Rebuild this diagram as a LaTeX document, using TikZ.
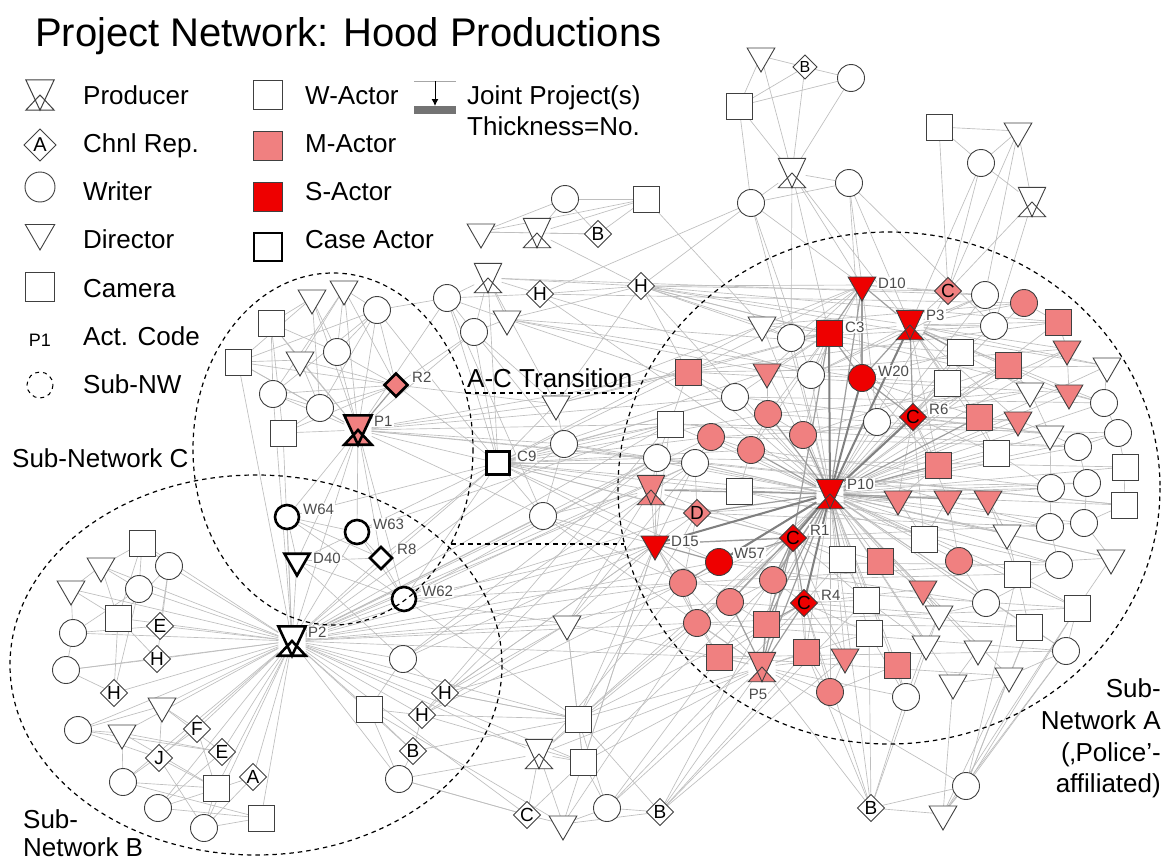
\documentclass[tikz,border=0pt]{standalone}
\usepackage{fontspec}
\setmainfont{Liberation Sans}
\usetikzlibrary{shapes.geometric,arrows.meta}
\definecolor{mpink}{RGB}{240,128,128}
\definecolor{sred}{RGB}{238,0,0}
\definecolor{edgec}{RGB}{190,190,190}
\pgfdeclarelayer{bg}
\pgfsetlayers{bg,main}
\newcommand\hglass[3]{%
  \fill[#2] (#1.north west) -- (#1.north east) -- (#1.south) -- cycle;
  \fill[#2] (#1.south west) -- (#1.south east) -- (#1.center) -- cycle;
  \draw[#3, line join=miter] (#1.north west) -- (#1.north east) -- (#1.south) -- cycle
    (#1.south west) -- (#1.south east) -- (#1.center) -- cycle;}
\begin{document}
\begin{tikzpicture}[x=1pt,y=-1pt,
 base/.style={draw=black!75, line width=0.9pt, inner sep=0pt, outer sep=0pt},
 sq/.style={base, rectangle, minimum size=26pt},
 ci/.style={base, circle, minimum size=27pt},
 tr/.style={base, regular polygon, regular polygon sides=3, shape border rotate=180, minimum size=32pt, yshift=4pt},
 di/.style={base, diamond, minimum size=27pt, font=\fontsize{19}{19}\selectfont},
 pr/.style={rectangle, minimum width=27pt, minimum height=29pt, inner sep=0pt},
 wf/.style={fill=white}, mf/.style={fill=mpink}, sf/.style={fill=sred},
 case/.style={draw=black, line width=2.6pt},
 lbl/.style={font=\fontsize{15}{15}\selectfont, text=black!70, fill=white, inner sep=1pt, anchor=west},
 ed/.style={draw=edgec, line width=0.65pt},
 em/.style={draw=black!38, line width=1.2pt},
 et/.style={draw=black!50, line width=2pt},
 lt/.style={font=\fontsize{26}{26}\selectfont, anchor=base west, inner sep=0pt},
 nw/.style={draw=black, line width=1.2pt, dash pattern=on 4.5pt off 4pt},
]
\useasboundingbox (0,0) rectangle (1163,862);
\begin{pgfonlayer}{bg}
\fill[white] (0,0) rectangle (1163,862);
\end{pgfonlayer}

% ---------------- title and legend ----------------
\node[font=\fontsize{40}{40}\selectfont, anchor=base west, inner sep=0pt] (title) at (35,46) {Project Network: Hood Productions};

\node[pr, minimum width=28pt, minimum height=30pt] (lgP) at (40,95) {};
\node[di, wf, minimum size=32pt, font=\fontsize{20}{20}\selectfont] (lgA) at (40,145) {A};
\node[ci, wf, minimum size=30pt] (lgW) at (40,187) {};
\node[tr, wf, minimum size=34pt] (lgD) at (40,237) {};
\node[sq, wf, minimum size=29pt] (lgC) at (40,287) {};
\node[font=\fontsize{18}{18}\selectfont, inner sep=0pt] (lgP1) at (40,340) {P1};
\draw[line width=1pt, dash pattern=on 4pt off 4pt] (40,385) circle (13);
\node[lt] (tP) at (83,104) {Producer};
\node[lt] (tA) at (83,152) {Chnl Rep.};
\node[lt] (tW) at (83,200) {Writer};
\node[lt] (tD) at (83,248) {Director};
\node[lt] (tC) at (83,297) {Camera};
\node[lt] (tAC) at (83,345) {Act. Code};
\node[lt] (tNW) at (83,393) {Sub-NW};
\node[sq, wf, minimum size=29pt] (lgWA) at (268,95) {};
\node[sq, mf, minimum size=29pt] (lgMA) at (268,146) {};
\node[sq, sf, minimum size=29pt] (lgSA) at (268,197) {};
\node[sq, wf, case, minimum size=28pt] (lgCA) at (268,247) {};
\node[lt] (tWA) at (305,104) {W-Actor};
\node[lt] (tMA) at (305,152) {M-Actor};
\node[lt] (tSA) at (305,200) {S-Actor};
\node[lt] (tCA) at (305,248) {Case Actor};
\draw[black!35, line width=1pt] (414,81) -- (456,81);
\draw[black, line width=1pt, -{Latex[length=7pt,width=7pt]}] (435,81) -- (435,106);
\fill[black!55] (414,106) rectangle (456,114);
\node[lt] (tJP) at (467,104) {Joint Project(s)};
\node[lt] (tTN) at (467,135) {Thickness=No.};

% ---------------- region C ----------------
\node[tr,wf] (c1) at (312,302) {};
\node[tr,wf] (c2) at (344,293) {};
\node[ci,wf] (c3) at (377,310) {};
\node[sq,wf] (c4) at (271,323) {};
\node[ci,wf] (c5) at (337,352) {};
\node[sq,wf] (c6) at (238,362) {};
\node[tr,wf] (c7) at (300,364) {};
\node[ci,wf] (c8) at (273,394) {};
\node[ci,wf] (c9) at (320,408) {};
\node[sq,wf] (c10) at (283,433) {};
\node[di,mf,case,minimum size=23pt] (R2) at (396,385) {};
\node[pr] (P1) at (358,430) {};
\node[ci,wf,case,minimum size=24pt] (W64) at (287,517) {};
\node[ci,wf,case,minimum size=24pt] (W63) at (357,532) {};
\node[di,wf,case,minimum size=22pt] (R8) at (381,558) {};
\node[tr,wf,case,minimum size=29pt] (D40) at (297,565) {};
\node[ci,wf,case,minimum size=24pt] (W62) at (404,599) {};
\node[sq,wf,case,minimum size=23pt] (C9) at (498,463) {};

% ---------------- region B ----------------
\node[sq,wf] (b1) at (142,543) {};
\node[tr,wf] (b2) at (101,570) {};
\node[ci,wf] (b3) at (169,566) {};
\node[tr,wf] (b4) at (71,593) {};
\node[ci,wf] (b5) at (139,589) {};
\node[sq,wf] (b6) at (118,618) {};
\node[di,wf] (b7) at (160,626) {E};
\node[ci,wf] (b8) at (73,633) {};
\node[di,wf] (b9) at (157,659) {H};
\node[ci,wf] (b10) at (66,670) {};
\node[di,wf] (b11) at (114,693) {H};
\node[tr,wf] (b12) at (162,710) {};
\node[ci,wf] (b13) at (78,730) {};
\node[di,wf] (b14) at (197,729) {F};
\node[tr,wf] (b15) at (122,737) {};
\node[di,wf] (b16) at (222,752) {E};
\node[di,wf] (b17) at (159,758) {J};
\node[di,wf] (b18) at (253,777) {A};
\node[ci,wf] (b19) at (123,782) {};
\node[sq,wf] (b20) at (216,788) {};
\node[ci,wf] (b21) at (158,808) {};
\node[ci,wf] (b22) at (204,828) {};
\node[sq,wf] (b23) at (261,818) {};
\node[ci,wf] (b24) at (403,659) {};
\node[di,wf] (b25) at (445,693) {H};
\node[sq,wf] (b26) at (369,709) {};
\node[di,wf] (b27) at (422,715) {H};
\node[di,wf] (b28) at (413,751) {B};
\node[ci,wf] (b29) at (399,779) {};
\node[pr] (P2) at (292,641) {};

% ---------------- top clusters ----------------
\node[ci,wf] (t1) at (565,199) {};
\node[sq,wf] (t2) at (646,199) {};
\node[tr,wf] (t3) at (481,236) {};
\node[pr] (t4) at (537,233) {};
\node[di,wf] (t5) at (598,234) {B};
\node[pr] (t6) at (488,278) {};
\node[ci,wf] (t7) at (447,298) {};
\node[di,wf] (t8) at (540,294) {H};
\node[di,wf] (t9) at (641,286) {H};
\node[tr,wf] (t10) at (507,323) {};
\node[ci,wf] (t11) at (474,332) {};
\node[tr,wf] (x1) at (556,408) {};
\node[ci,wf] (x2) at (564,444) {};
\node[ci,wf] (x3) at (543,516) {};
\node[tr,wf] (u1) at (761,60) {};
\node[di,wf,minimum size=24pt,font=\fontsize{16}{16}\selectfont] (u2) at (805,67) {B};
\node[ci,wf] (u3) at (851,78) {};
\node[sq,wf] (u4) at (739,106) {};
\node[pr] (u5) at (792,173) {};
\node[ci,wf] (u6) at (849,183) {};
\node[ci,wf] (u7) at (751,203) {};
\node[sq,wf] (v1) at (939,127) {};
\node[tr,wf] (v2) at (1018,135) {};
\node[ci,wf] (v3) at (981,163) {};
\node[pr] (v4) at (1032,202) {};

% ---------------- region A ----------------
\node[tr,sf] (D10) at (862,289) {};
\node[di,mf] (a1) at (948,291) {C};
\node[ci,wf] (a2) at (985,295) {};
\node[ci,mf] (a3) at (1024,303) {};
\node[pr] (P3) at (910,325) {};
\node[ci,wf] (a4) at (994,326) {};
\node[sq,mf] (a5) at (1058,322) {};
\node[sq,sf] (C3) at (829,333) {};
\node[tr,wf] (a6) at (762,329) {};
\node[ci,wf] (a7) at (791,338) {};
\node[sq,wf] (a8) at (960,352) {};
\node[tr,mf] (a9) at (1067,353) {};
\node[sq,mf] (a10) at (1008,365) {};
\node[tr,wf] (a11) at (1107,370) {};
\node[sq,mf] (a12) at (688,372) {};
\node[tr,mf] (a13) at (767,376) {};
\node[ci,wf] (a14) at (811,375) {};
\node[ci,sf] (W20) at (862,378) {};
\node[sq,wf] (a15) at (947,383) {};
\node[tr,wf] (a16) at (1030,395) {};
\node[tr,mf] (a17) at (1069,397) {};
\node[ci,wf] (a18) at (735,397) {};
\node[ci,wf] (a19) at (1104,403) {};
\node[ci,mf] (a20) at (768,414) {};
\node[di,sf] (R6) at (913,417) {C};
\node[ci,wf] (a21) at (877,422) {};
\node[sq,mf] (a22) at (979,417) {};
\node[tr,mf] (a23) at (1018,424) {};
\node[sq,wf] (a24) at (670,424) {};
\node[ci,mf] (a25) at (803,435) {};
\node[ci,mf] (a26) at (711,437) {};
\node[ci,wf] (a27) at (1118,433) {};
\node[tr,wf] (a28) at (1050,438) {};
\node[ci,wf] (a29) at (1078,447) {};
\node[ci,mf] (a30) at (751,450) {};
\node[sq,wf] (a31) at (996,453) {};
\node[ci,wf] (a32) at (657,458) {};
\node[ci,wf] (a33) at (695,463) {};
\node[sq,mf] (a34) at (938,465) {};
\node[sq,wf] (a35) at (1125,467) {};
\node[ci,wf] (a36) at (1087,483) {};
\node[ci,wf] (a37) at (1051,488) {};
\node[pr] (a38) at (651,490) {};
\node[sq,wf] (a39) at (739,491) {};
\node[pr] (P10) at (830,494) {};
\node[tr,mf] (a40) at (898,503) {};
\node[tr,mf] (a41) at (948,503) {};
\node[tr,mf] (a42) at (988,503) {};
\node[sq,wf] (a43) at (1124,505) {};
\node[di,mf] (a44) at (697,513) {D};
\node[ci,wf] (a45) at (1084,523) {};
\node[ci,wf] (a46) at (1050,527) {};
\node[tr,wf] (a47) at (1007,537) {};
\node[di,sf] (R1) at (793,538) {C};
\node[sq,wf] (a48) at (924,539) {};
\node[tr,sf] (D15) at (655,548) {};
\node[sq,wf] (a49) at (842,559) {};
\node[sq,mf] (a50) at (880,561) {};
\node[ci,mf] (a51) at (959,561) {};
\node[ci,sf] (W57) at (719,562) {};
\node[ci,wf] (a52) at (1059,565) {};
\node[tr,wf] (a53) at (1111,562) {};
\node[sq,wf] (a54) at (1017,574) {};
\node[ci,mf] (a55) at (683,583) {};
\node[ci,mf] (a56) at (773,580) {};
\node[tr,mf] (a57) at (923,593) {};
\node[ci,mf] (a58) at (730,602) {};
\node[di,sf] (R4) at (804,603) {C};
\node[sq,wf] (a59) at (866,600) {};
\node[ci,wf] (a60) at (986,603) {};
\node[sq,wf] (a61) at (1077,608) {};
\node[tr,wf] (a62) at (939,618) {};
\node[ci,mf] (a63) at (697,623) {};
\node[sq,mf] (a64) at (766,624) {};
\node[sq,wf] (a65) at (1029,627) {};
\node[sq,wf] (a66) at (869,633) {};
\node[tr,wf] (a67) at (926,648) {};
\node[ci,wf] (a68) at (1066,651) {};
\node[tr,wf] (a69) at (978,653) {};
\node[sq,mf] (a70) at (806,652) {};
\node[sq,mf] (a71) at (719,657) {};
\node[tr,mf] (a72) at (845,661) {};
\node[sq,mf] (a73) at (897,665) {};
\node[pr] (P5) at (762,667) {};
\node[tr,wf] (a74) at (1009,680) {};
\node[tr,wf] (a75) at (953,687) {};
\node[ci,mf] (a76) at (830,692) {};
\node[ci,wf] (a77) at (906,697) {};

% ---------------- bottom ----------------
\node[tr,wf] (m1) at (567,628) {};
\node[sq,wf] (m2) at (578,719) {};
\node[pr] (m3) at (539,754) {};
\node[sq,wf] (m4) at (583,762) {};
\node[di,wf] (m5) at (527,815) {C};
\node[tr,wf] (m6) at (563,828) {};
\node[ci,wf] (m7) at (607,808) {};
\node[di,wf] (m8) at (660,812) {B};
\node[di,wf] (n1) at (871,808) {B};
\node[tr,wf] (n2) at (943,818) {};
\node[ci,wf] (n3) at (966,786) {};

% ---------------- producers ----------------
\hglass{lgP}{white}{draw=black!75, line width=1pt}
\foreach \n in {t4,t6,u5,v4,m3} {\hglass{\n}{white}{draw=black!75, line width=0.9pt}}
\hglass{a38}{mpink}{draw=black!75, line width=0.9pt}
\hglass{P5}{mpink}{draw=black!75, line width=0.9pt}
\hglass{P10}{sred}{draw=black!75, line width=0.9pt}
\hglass{P3}{sred}{draw=black!75, line width=0.9pt}
\hglass{P1}{mpink}{draw=black, line width=2.6pt}
\hglass{P2}{white}{draw=black, line width=2.6pt}

% ---------------- connectors ----------------
\begin{pgfonlayer}{bg}
\foreach \i in {1,...,29} \draw[ed] (P2) -- (b\i);
\foreach \b in {W64,W63,R8,D40,W62,P1,C9,c10,c8,c6,m1,m2,m4,a38,D15,a32,a33,a24,a55,x3,
  a63,a71,a58,W57,a44,a26,x2,m3,m5}
  \draw[ed] (P2) -- (\b);
\foreach \i in {1,...,10} \draw[ed] (P1) -- (c\i);
\foreach \b in {W64,W63,R8,D40,W62,C9,x1,x2,a24,a32,t7,t11,a12,x3,a18,a33}
  \draw[ed] (P1) -- (\b);
\draw[em] (P1) -- (R2);
\foreach \a/\b in {c1/c4,c1/c5,c1/c6,c2/c5,c2/c3,c2/c7,c3/c5,c3/R2,c4/c7,c4/c10,c4/c8,c5/R2,
  c6/c7,c6/c9,c6/R2,c7/c9,c7/R2,c8/R2,c8/c9,c9/R2,c1/c9,c2/c8,c3/c8,c3/c9,c10/R2,c10/c9,
  c4/c5,c6/c3,c2/R2,R2/C9,R2/t11,R2/x1,c3/t7,
  W64/W63,W64/R8,W64/W62,W64/D40,W63/R8,W63/W62,R8/W62,D40/R8,D40/W62,D40/W63,W62/C9,
  W62/a32,W62/a33,W62/D15,W62/m1,W63/C9,W63/a24,R8/C9,W64/C9,W62/a55,W62/m2,D40/b24,
  C9/x1,C9/x2,C9/x3,C9/a24,C9/a32,C9/a33,C9/a38,C9/a12,C9/a18,C9/a26,C9/P10,C9/a39,C9/a44,
  C9/D15,C9/a20,C9/a30,C9/t6,C9/t11,C9/c3,C9/a13,C9/a6,C9/W57,C9/R1,
  b1/b3,b1/b5,b2/b5,b2/b6,b3/b7,b4/b6,b5/b8,b6/b9,b6/b11,b7/b8,b8/b10,b9/b10,b10/b11,
  b12/b13,b12/b14,b12/b17,b13/b15,b13/b17,b14/b19,b15/b19,b15/b20,b16/b21,b16/b13,b17/b22,
  b18/b21,b18/b22,b19/b20,b20/b22,b21/b23,b22/b23,b15/b16,b17/b20,b19/b23,b3/b6,b1/b6,
  b3/b9,b5/b11,b2/b4,b4/b8,b1/b2,b14/b20,b12/b16,
  b24/b25,b24/b26,b25/b27,b26/b27,b26/b29,b27/b28,b28/b29,b26/b28,b25/a38,b25/D15,b27/a55,
  b28/m2,b24/a32,b25/m2,b27/m4,b24/a33,b29/m3,b25/a63,b27/a24,b24/D15,b29/m5,b26/m6,
  t1/t2,t1/t3,t1/t4,t2/t3,t2/t4,t2/t5,t3/t4,t4/t5,t1/t5,t3/t5,t6/t7,t6/t8,t6/t9,t6/t10,
  t6/t11,t7/t8,t7/t10,t7/t11,t8/t9,t10/t9,t11/t10,t9/a6,t9/C3,t9/D10,t9/P3,t9/a12,t8/a14,
  t10/a13,t6/x1,t7/C9,t11/x2,t9/P10,t9/a1,t9/a5,t9/a7,t8/P10,t10/W20,t11/x1,t7/x3,t10/a18,
  t2/a6,t4/t9,t9/a11,t9/a19,t8/a3,t6/a2,t10/a8,
  u1/u2,u1/u4,u1/u5,u2/u3,u2/u4,u2/u5,u3/u4,u3/u5,u4/u5,u5/u6,u5/u7,u6/u7,u7/t9,u7/D10,
  u7/a14,u5/D10,u5/C3,u5/P3,u6/D10,u6/P3,u5/a7,u7/P10,u6/W20,u7/t8,u6/a4,u4/u7,
  v1/v2,v1/v3,v2/v3,v3/v4,v2/v4,v1/a1,v3/a1,v2/a1,v4/a1,v4/a4,v3/P3,v2/a2,
  x1/x2,x1/t9,x2/x3,x1/a12,x2/a24,x2/a32,x3/a38,x3/D15,x1/C3,x2/a18,x3/a55,x1/a6,x2/P10}
  \draw[ed] (\a) -- (\b);
\foreach \b in {a27,a29,a35,a36,a43,a45,a46,a47,a52,a53,a19,a11,a9,a17,a23,a28,a31,a37,
  a48,a51,a54,a57,a60,a61,a62,a65,a68,a12,a13,a14,a18,a24,a26,a32,a33,a6,a7,a21,a8,a15,
  a10,a5,a3,a2,a1,a42,a50,a59,a66,a70,a72,a73,a76,a63,a71,a74,a75,a77,a69,a67}
  \draw[ed] (P10) -- (\b);
\foreach \b in {a1,a2,a3,a4,a5,a8,a9,a10,a15,a16,a17,a22,a23,a19,a11,a14,a7,a34,a31}
  \draw[ed] (P3) -- (\b);
\foreach \a/\b in {D10/a1,D10/a2,D10/a7,D10/a14,D10/a6,D10/a13,D10/a21,D10/a12,
  C3/R6,C3/a7,C3/a6,C3/a13,C3/a14,C3/a12,C3/a20,C3/a25,C3/a30,C3/a18,
  W20/a21,W20/a8,W20/a15,W20/a22,W20/a34,W20/a14,
  R6/a22,R6/a34,R6/a31,R6/a16,R6/a23,R6/a28,R6/a8,R6/a15,R6/a10,R6/a9,R6/a40,R6/a41,R6/a48,
  R1/a49,R1/a44,R1/a55,R1/a63,R1/a58,R1/a64,R1/a70,R1/a59,R1/a72,R1/a50,R1/a48,R1/a38,
  R4/a70,R4/a72,R4/a76,R4/a59,R4/a66,R4/a62,R4/a57,R4/a71,R4/a49,R4/a56,
  P5/a71,P5/a63,P5/a70,P5/a72,P5/a76,P5/a55,P5/a56,P5/m2,P5/m3,P5/m4,P5/m7,P5/m8,P5/n1,
  P5/n3,P5/a77,P5/a66,P5/m1,P5/x3,
  D15/a55,D15/a63,D15/a44,D15/a38,D15/a58,D15/m1,D15/b25,D15/a32,D15/a33,D15/a24,D15/m2,
  D15/m4,D15/a71,
  a35/a43,a27/a35,a29/a36,a36/a45,a46/a52,a53/a61,a52/a60,a54/a65,a60/a62,a61/a68,a65/a74,
  a68/a74,a69/a75,a67/a77,a62/a67,a47/a54,a19/a27,a11/a19,a28/a37,a37/a46,a16/a28,a29/a27,
  a31/a37,a42/a47,a41/a48,a45/a53,a43/a45,a57/a62,a51/a60,a54/a61,a65/a68,a74/a75,a66/a77,
  a59/a67,a9/a17,a5/a9,a3/a5,a2/a4,a4/a8,a10/a16,a17/a19,a23/a29,a22/a31,a40/a48,a50/a57,
  a49/a59,a73/a77,a73/a76,a72/a76,a70/a76,a71/a63,a55/a63,a56/a58,a58/a64,a44/a55,a33/a44,
  a26/a33,a30/a20,a25/a21,a38/a32,a24/a32,a12/a18,a13/a20,a6/a7,a26/a30,a20/a25,a34/a40,
  a41/a51,a42/a54,a39/a30,a12/a24,
  a12/a5,a12/a11,a24/a27,a32/a35,a33/a43,a38/a36,D15/a45,a55/a53,a63/a61,a71/a68,a18/a19,
  a26/a29,a13/a9,a6/a3,a14/a2,a7/a4,W57/a52,a44/a46,a56/a54,a39/a47,a64/a65,a30/a37,a20/a28,
  a24/a29,a26/a23,a32/a43,a33/a53,a55/a61,a63/a68,a12/a17,a18/a28,W57/a60,a58/a65,a71/a74,
  a44/a37,a39/a52,a25/a10,a20/a16,a30/a46,
  m1/m2,m1/m4,m2/m4,m2/m3,m3/m4,m3/m5,m4/m5,m4/m6,m4/m7,m2/m7,m2/m8,m7/m8,m6/m7,m6/m8,
  m5/m6,m3/m6,m8/a70,m7/a71,m7/R4,m3/a55,m2/P10,m4/D15,m2/a64,m1/a33,m1/a38,m1/b25,m1/b27,
  m2/b25,m2/b27,m8/a72,m8/a59,m1/a55,m2/R1,m4/a56,m3/a63,m5/b29,m6/a63,m8/P10,m2/a44,
  n1/n2,n1/n3,n2/n3,n1/a66,n1/a77,n1/a62,n2/a61,n2/a68,n3/a68,n3/a65,n3/a54,n1/a70,n1/P10,
  n3/a74,n2/a75,n1/R4,n3/a61,n2/a74}
  \draw[ed] (\a) -- (\b);
\foreach \b in {D10,a56,a58,a64,P5,a30,a25,a20,a44,a38,a39,a34,a40,a41,a22,a49,a55}
  \draw[em] (P10) -- (\b);
\foreach \a/\b in {W20/R6,P3/W20,P3/R6,D10/C3,D10/P3,C3/W20,R1/W57,R1/D15,R1/R4,R1/P5,
  R4/P5,R1/a56,R1/a64,W57/D15,P3/a8,D10/W20,C3/R1,a64/P5,a58/P5,R4/a64}
  \draw[em] (\a) -- (\b);
\foreach \b in {R1,W20,C3,P3,R6,W57,D15,R4}
  \draw[et] (P10) -- (\b);
\end{pgfonlayer}

% ---------------- activity codes ----------------
\node[lbl] (lR2) at (411,377) {R2};
\node[lbl] (lP1) at (373,421) {P1};
\node[lbl] (lC9) at (516,456) {C9};
\node[lbl] (lW64) at (302,509) {W64};
\node[lbl] (lW63) at (372,524) {W63};
\node[lbl] (lR8) at (396,549) {R8};
\node[lbl] (lD40) at (312,558) {D40};
\node[lbl] (lW62) at (421,591) {W62};
\node[lbl] (lP2) at (307,632) {P2};
\node[lbl] (lD10) at (877,283) {D10};
\node[lbl] (lP3) at (925,315) {P3};
\node[lbl] (lC3) at (844,327) {C3};
\node[lbl] (lW20) at (877,371) {W20};
\node[lbl] (lR6) at (928,409) {R6};
\node[lbl] (lP10) at (846,484) {P10};
\node[lbl] (lR1) at (809,530) {R1};
\node[lbl] (lD15) at (670,541) {D15};
\node[lbl] (lW57) at (733,553) {W57};
\node[lbl] (lR4) at (820,595) {R4};
\node[lbl, anchor=center] (lP5) at (758,694) {P5};

% ---------------- sub-networks ----------------
\draw[nw] (333,449) ellipse [x radius=140, y radius=176];
\draw[nw] (256,665) ellipse [x radius=246, y radius=190];
\draw[nw] (889,488) ellipse [x radius=271, y radius=256];
\draw[nw] (466,393) -- (637,393);
\draw[nw] (451,544) -- (624,544);
\node[lt] (tSC) at (12,467) {Sub-Network C};
\node[lt] (tTR) at (467,387) {A-C Transition};
\node[lt] (tSB1) at (23,828) {Sub-};
\node[lt] (tSB2) at (23,856) {Network B};
\node[lt, anchor=base east] (tSA1) at (1161,697) {Sub-};
\node[lt, anchor=base east] (tSA2) at (1161,729) {Network A};
\node[lt, anchor=base east] (tSA3) at (1161,761) {(‚Police'-};
\node[lt, anchor=base east] (tSA4) at (1161,792) {affiliated)};
\end{tikzpicture}
\end{document}
